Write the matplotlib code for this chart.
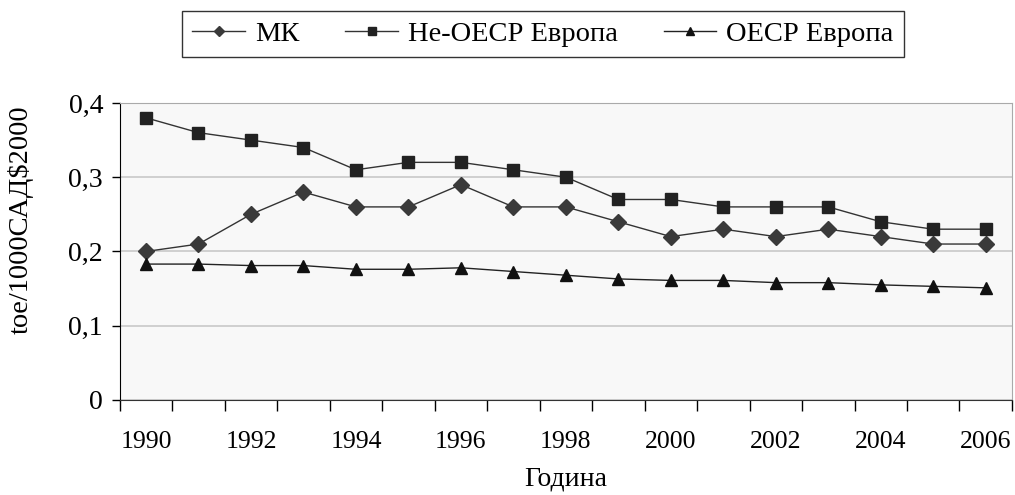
import numpy as np
import matplotlib
matplotlib.use('Agg')
import matplotlib.pyplot as plt
from matplotlib.ticker import FuncFormatter

plt.rcParams['font.family'] = ['Liberation Serif', 'DejaVu Serif']

years = list(range(1990, 2007))
mk = [0.20, 0.21, 0.25, 0.28, 0.26, 0.26, 0.29, 0.26, 0.26, 0.24, 0.22, 0.23, 0.22, 0.23, 0.22, 0.21, 0.21]
non_oecd = [0.38, 0.36, 0.35, 0.34, 0.31, 0.32, 0.32, 0.31, 0.30, 0.27, 0.27, 0.26, 0.26, 0.26, 0.24, 0.23, 0.23]
oecd = [0.183, 0.183, 0.181, 0.181, 0.176, 0.176, 0.178, 0.173, 0.168, 0.163, 0.161, 0.161, 0.158, 0.158, 0.155, 0.153, 0.151]
labels = ['МК', 'Не-ОЕСР Европа', 'ОЕСР Европа']

fig = plt.figure(figsize=(10.15, 4.95), dpi=100)
ax = fig.add_axes([0.118, 0.192, 0.879, 0.600])
ax.set_facecolor('#f8f8f8')

x = np.arange(len(years))
ax.plot(x, mk, color='#333333', lw=1, marker='D', ms=8, mfc='#3a3a3a', mec='#3a3a3a', label=labels[0])
ax.plot(x, non_oecd, color='#333333', lw=1, marker='s', ms=8, mfc='#222222', mec='#222222', label=labels[1])
ax.plot(x, oecd, color='#222222', lw=1, marker='^', ms=9, mfc='#111111', mec='#111111', label=labels[2])

ax.set_xlim(-0.5, len(years) - 0.5)
ax.set_ylim(0, 0.4)
ax.set_yticks([0, 0.1, 0.2, 0.3, 0.4])
ax.yaxis.set_major_formatter(FuncFormatter(lambda v, p: '0' if v == 0 else f'{v:.1f}'.replace('.', ',')))
ax.yaxis.grid(True, color='#c8c8c8', lw=1.2)
ax.set_axisbelow(True)

# labels on every second year, ticks between categories
ax.set_xticks(x[::2])
ax.set_xticklabels([str(y) for y in years[::2]])
ax.set_xticks(np.arange(-0.5, len(years)), minor=True)
ax.tick_params(axis='x', which='major', length=0, pad=22, labelsize=18.5)
ax.tick_params(axis='x', which='minor', length=8, width=1, direction='out')
ax.tick_params(axis='y', length=6, width=1, labelsize=20, pad=6)

ax.spines['top'].set_color('#aaaaaa')
ax.spines['right'].set_color('#aaaaaa')
ax.spines['left'].set_color('black')
ax.spines['bottom'].set_color('#333333')

ax.set_xlabel('Година', fontsize=20, labelpad=10)
ax.set_ylabel('toe/1000САД$2000', fontsize=20.5)
ax.yaxis.set_label_coords(-0.097, 0.606)

leg = fig.legend(loc='center', bbox_to_anchor=(0.535, 0.932), ncol=3, fontsize=20.5,
                 frameon=True, fancybox=False, edgecolor='black', markerscale=0.7,
                 handlelength=1.85, columnspacing=1.6, handletextpad=0.36,
                 borderpad=0.35)
leg.get_frame().set_linewidth(1)

fig.savefig('out.png', dpi=100)
